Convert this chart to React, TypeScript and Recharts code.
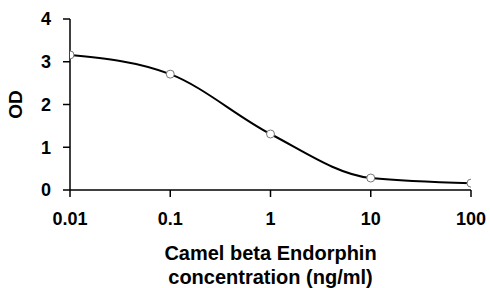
import React from 'react';
import { LineChart, Line, XAxis, YAxis } from 'recharts';

const concentrations = [0.01, 0.1, 1, 10, 100];
const odValues = [3.16, 2.71, 1.31, 0.28, 0.16];
const xTicks = [0.01, 0.1, 1, 10, 100];
const yTicks = [0, 1, 2, 3, 4];
const xTitleLines = ['Camel beta Endorphin', 'concentration (ng/ml)'];
const yTitle = 'OD';

const data = concentrations.map((c, i) => ({ x: c, y: odValues[i] }));

const FONT = '"Liberation Sans", Arial, sans-serif';

const XTitle = (props: any) => {
  const { viewBox } = props;
  const cx = viewBox.x + viewBox.width / 2;
  return (
    <text x={cx} y={viewBox.y} textAnchor="middle" fontFamily={FONT} fontWeight="bold" fontSize={20} fill="#000">
      <tspan x={cx} dy={70}>{xTitleLines[0]}</tspan>
      <tspan x={cx} dy={24}>{xTitleLines[1]}</tspan>
    </text>
  );
};

const YTitle = (props: any) => {
  const { viewBox } = props;
  const cy = viewBox.y + viewBox.height / 2;
  const x = 15;
  return (
    <text x={x} y={cy} transform={`rotate(-90 ${x} ${cy})`} textAnchor="middle" dominantBaseline="central" fontFamily={FONT} fontWeight="bold" fontSize={19} fill="#000">
      {yTitle}
    </text>
  );
};

export default function App() {
  return (
    <div style={{ position: 'absolute', left: 0, top: 0, background: '#fff' }}>
      <LineChart width={490} height={288} data={data} margin={{ top: 19, right: 19, bottom: 0, left: 0 }}>
        <XAxis
          dataKey="x"
          type="number"
          scale="log"
          domain={[0.01, 100]}
          ticks={xTicks}
          allowDataOverflow
          height={98}
          tickSize={7}
          tickMargin={15}
          tickFormatter={(v: number) => String(v)}
          axisLine={{ stroke: '#000', strokeWidth: 1.5 }}
          tickLine={{ stroke: '#000', strokeWidth: 1.5 }}
          tick={{ fill: '#000', fontFamily: FONT, fontWeight: 'bold', fontSize: 18 }}
          label={<XTitle />}
        />
        <YAxis
          type="number"
          domain={[0, 4]}
          ticks={yTicks}
          width={70}
          tickSize={7}
          tickMargin={12}
          axisLine={{ stroke: '#000', strokeWidth: 1.5 }}
          tickLine={{ stroke: '#000', strokeWidth: 1.5 }}
          tick={{ fill: '#000', fontFamily: FONT, fontWeight: 'bold', fontSize: 18 }}
          label={<YTitle />}
        />
        <Line
          dataKey="y"
          type="monotone"
          stroke="#000"
          strokeWidth={2}
          isAnimationActive={false}
          dot={{ r: 4, fill: '#fff', stroke: '#777', strokeWidth: 1 }}
        />
      </LineChart>
    </div>
  );
}
